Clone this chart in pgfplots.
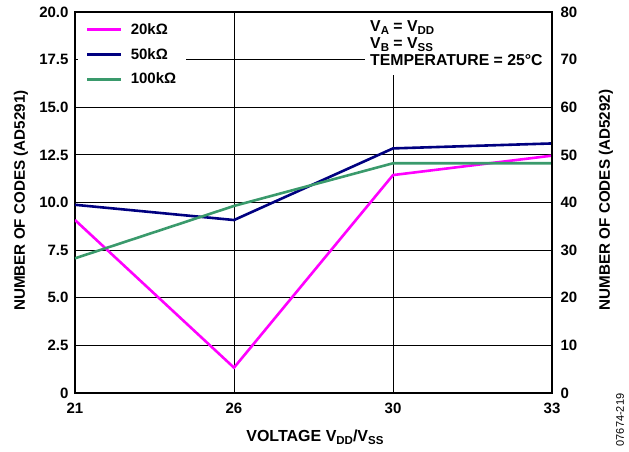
\documentclass[border=0pt]{standalone}
\usepackage{pgfplots}
\pgfplotsset{compat=1.18}
\usepackage{fontspec}
\setmainfont{Liberation Sans}
\definecolor{cmag}{RGB}{255,0,255}
\definecolor{cnavy}{RGB}{0,0,128}
\definecolor{cgreen}{RGB}{58,154,108}
\newcommand\sub[1]{\raisebox{-0.35ex}{\fontsize{11.5}{11.5}\selectfont #1}}
\begin{document}
\begin{tikzpicture}
\begin{axis}[
  scale only axis, width=477pt, height=381pt,
  xmin=0, xmax=3, ymin=0, ymax=20,
  xtick={0,1,2,3}, xticklabels={21,26,30,33},
  ytick={0,2.5,5,7.5,10,12.5,15,17.5,20},
  yticklabels={0,2.5,5.0,7.5,10.0,12.5,15.0,17.5,20.0},
  ytick pos=left, xtick pos=bottom,
  grid=major, major grid style={black, line width=0.8pt},
  major tick length=0pt,
  axis line style={line width=1.6pt},
  tick label style={font=\fontsize{15}{15}\selectfont\bfseries},
  xticklabel style={yshift=-6pt},
  yticklabel style={xshift=-3pt},
  ylabel={NUMBER OF CODES (AD5291)},
  ylabel style={at={(axis description cs:-0.1132,0.505)}, anchor=center, font=\fontsize{15.2}{15.2}\selectfont\bfseries},
  xlabel={VOLTAGE V\sub{DD}/V\sub{SS}},
  xlabel style={at={(axis description cs:0.503,-0.128)}, anchor=base, font=\fontsize{16}{16}\selectfont\bfseries},
  legend style={at={(rel axis cs:0,0.997)}, anchor=north west, draw=none, fill=white,
    xshift=3pt, inner xsep=8pt, inner ysep=8pt, row sep=8.5pt,
    /tikz/every odd column/.append style={column sep=6pt},
    font=\fontsize{15}{15}\selectfont\bfseries},
  legend cell align=left,
  legend image code/.code={\draw[#1] (0pt,0pt) -- (34pt,0pt);},
]
\fill[white] (rel axis cs:0.608,0.997) rectangle (rel axis cs:0.997,0.835);
\node[anchor=north west, align=left, inner sep=5pt, font=\fontsize{15.8}{17}\selectfont\bfseries] at (rel axis cs:0.608,0.99)
  {V\sub{A} = V\sub{DD}\\V\sub{B} = V\sub{SS}\\TEMPERATURE = 25°C};
\addplot[cmag, line width=2.6pt] coordinates {(0,9.08) (1,1.33) (2,11.44) (3,12.46)};
\addlegendentry{20kΩ}
\addplot[cnavy, line width=2.6pt] coordinates {(0,9.88) (1,9.08) (2,12.84) (3,13.1)};
\addlegendentry{50kΩ}
\addplot[cgreen, line width=2.6pt] coordinates {(0,7.07) (1,9.82) (2,12.06) (3,12.06)};
\addlegendentry{100kΩ}
\end{axis}
\begin{axis}[
  scale only axis, width=477pt, height=381pt,
  xmin=0, xmax=3, ymin=0, ymax=80,
  axis x line=none, axis y line*=right,
  ytick={0,10,20,30,40,50,60,70,80},
  yticklabels={0,10,20,30,40,50,60,70,80},
  major tick length=0pt,
  axis line style={line width=1.6pt},
  tick label style={font=\fontsize{15}{15}\selectfont\bfseries},
  yticklabel style={xshift=5pt},
  ylabel={NUMBER OF CODES (AD5292)},
  ylabel style={at={(axis description cs:1.1132,0.507)}, anchor=center, rotate=0, font=\fontsize{15.2}{15.2}\selectfont\bfseries},
]
\addplot[draw=none] coordinates {(0,0)};
\end{axis}
\node[rotate=90, anchor=center, inner sep=0pt, font=\fontsize{11}{11}\selectfont] at (545pt,-27pt) {07674-219};
\pgfresetboundingbox
\useasboundingbox (-75pt,-58pt) rectangle (554pt,393pt);
\end{tikzpicture}
\end{document}
